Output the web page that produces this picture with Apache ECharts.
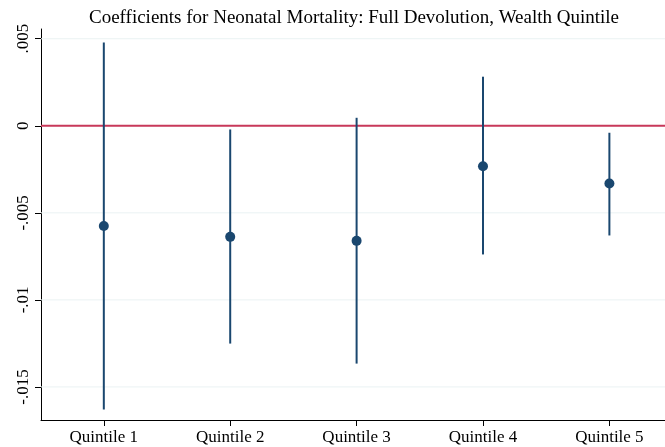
<!DOCTYPE html>
<html>
<head>
<meta charset="utf-8">
<script src="https://cdn.jsdelivr.net/npm/echarts@6/dist/echarts.min.js"></script>
<style>
html,body{margin:0;padding:0;background:#fff;}
#c{width:665px;height:447px;}
</style>
</head>
<body>
<div id="c"></div>
<script>
var categories = ['Quintile 1','Quintile 2','Quintile 3','Quintile 4','Quintile 5'];
var positions = [1,2,3,4,5];
var coef = [-0.00576, -0.00638, -0.00661, -0.00232, -0.00331];
var ciLow = [-0.01629, -0.01251, -0.01366, -0.00739, -0.00630];
var ciHigh = [0.00479, -0.00021, 0.00046, 0.00282, -0.00040];
var yTicks = [-0.015, -0.01, -0.005, 0, 0.005];
var yTickLabels = ['-.015', '-.01', '-.005', '0', '.005'];
var refLine = [0];

var FONT = 'Liberation Serif';
var chart = echarts.init(document.getElementById('c'), null, {renderer:'canvas'});

var barData = positions.map(function(p,i){ return [p, ciLow[i], ciHigh[i]]; });
var ptData = positions.map(function(p,i){ return [p, coef[i]]; });

function hLineSeries(values, color, width, z){
  return {
    type: 'custom', z: z, silent: true,
    renderItem: function(params, api){
      var cs = params.coordSys;
      var y = api.coord([0.503, api.value(0)])[1];
      return {type: 'line', shape: {x1: cs.x, y1: y, x2: cs.x + cs.width, y2: y},
              style: {stroke: color, lineWidth: width}};
    },
    encode: {y: 0},
    data: values.map(function(v){ return [v]; })
  };
}

chart.setOption({
  animation: false,
  backgroundColor: '#ffffff',
  title: {
    text: 'Coefficients for Neonatal Mortality: Full Devolution, Wealth Quintile',
    left: 349, textAlign: 'center', top: 4,
    textStyle: {fontFamily: FONT, fontWeight: 'normal', fontSize: 19, color: '#000'}
  },
  grid: {left: 41, right: 0, top: 29, bottom: 27},
  xAxis: {
    type: 'value', min: 0.503, max: 5.44,
    axisLine: {show: true, onZero: false, lineStyle: {color: '#000', width: 1}},
    axisTick: {show: true, inside: false, length: 6, customValues: positions, lineStyle: {color: '#000', width: 1}},
    axisLabel: {
      customValues: positions, margin: 9,
      fontFamily: FONT, fontSize: 17, color: '#000',
      formatter: function(v){ var i = positions.indexOf(Math.round(v)); return i >= 0 ? categories[i] : ''; }
    },
    splitLine: {show: false}
  },
  yAxis: {
    type: 'value', min: -0.0169, max: 0.00556,
    axisLine: {show: true, onZero: false, lineStyle: {color: '#000', width: 1}},
    axisTick: {show: true, inside: false, length: 6, customValues: yTicks, lineStyle: {color: '#000', width: 1}},
    axisLabel: {
      customValues: yTicks, rotate: 90, margin: 9,
      fontFamily: FONT, fontSize: 17, color: '#000',
      formatter: function(v){
        for (var i = 0; i < yTicks.length; i++) { if (Math.abs(yTicks[i]-v) < 1e-9) return yTickLabels[i]; }
        return '';
      }
    },
    splitLine: {show: false}
  },
  series: [
    hLineSeries(yTicks, '#eaf2f3', 1, 1),
    hLineSeries(refLine, '#c8385a', 2, 2),
    {
      type: 'custom', z: 3,
      renderItem: function(params, api){
        var x = api.value(0);
        var p1 = api.coord([x, api.value(1)]);
        var p2 = api.coord([x, api.value(2)]);
        return {type: 'line', shape: {x1: p1[0], y1: p1[1], x2: p2[0], y2: p2[1]},
                style: {stroke: '#1a476f', lineWidth: 2}};
      },
      encode: {x: 0, y: [1,2]},
      data: barData
    },
    {
      type: 'scatter', z: 4, symbol: 'circle', symbolSize: 10,
      itemStyle: {color: '#1a476f', opacity: 1},
      data: ptData
    }
  ]
});
</script>
</body>
</html>
